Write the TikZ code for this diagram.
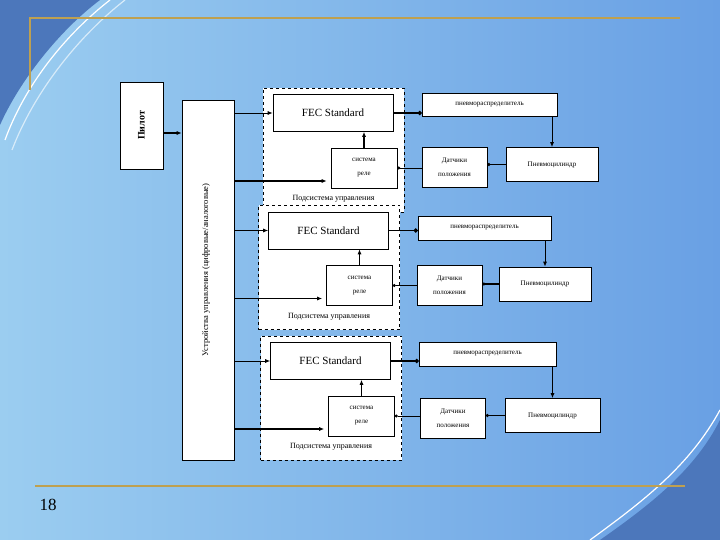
\documentclass[tikz,border=0pt]{standalone}
\usepackage{fontspec}
\setmainfont{Liberation Serif}
\usetikzlibrary{arrows.meta}
\definecolor{bgA}{RGB}{155,205,240}
\definecolor{bgB}{RGB}{105,160,228}
\definecolor{gold}{RGB}{190,160,80}
\definecolor{grid}{RGB}{45,95,175}
\begin{document}
\begin{tikzpicture}[x=1pt,y=-1pt,
 box/.style={draw=black,fill=white,line width=0.6pt,inner sep=0pt},
 dbox/.style={draw=black,fill=white,dashed,line width=0.6pt},
 con/.style={line width=1.3pt,-{Latex[length=5pt,width=4pt]}},
 dot/.style={line width=0.6pt,-{Circle[length=3pt]}},
 thk/.style={line width=1.6pt,-{Circle[length=4pt]}},
 lab/.style={font=\fontsize{7}{8}\selectfont},
 labs/.style={font=\fontsize{8}{9}\selectfont}]
\useasboundingbox (0,0) rectangle (720,540);
\shade[left color=bgA,right color=bgB] (0,0) rectangle (720,540);
\fill[grid!85] (0,0) -- (100,0) .. controls (60,30) and (20,80) .. (0,125) -- cycle;
\draw[white,line width=1.2pt] (110,0) .. controls (65,35) and (25,85) .. (5,140);
\draw[white!60!bgA,line width=1.2pt] (125,0) .. controls (80,35) and (35,90) .. (12,150);
\fill[grid!85] (720,540) -- (600,540) .. controls (650,505) and (695,470) .. (720,420) -- cycle;
\draw[white,line width=1.2pt] (590,540) .. controls (645,500) and (690,465) .. (720,410);
\draw[gold,line width=1.5pt] (30,90) -- (30,18) -- (680,18);
\draw[gold,line width=1.8pt] (35,486) -- (685,486);
\node[font=\fontsize{17}{17}\selectfont] (pg) at (48,505) {18};

\node[box,minimum width=43pt,minimum height=87pt] (pil) at (141.5,125.5) {};
\node[rotate=90,font=\bfseries\fontsize{10}{11}\selectfont] at (pil) {Пилот};
\node[box,minimum width=52pt,minimum height=360pt] (dev) at (208,280) {};
\node[rotate=90,font=\fontsize{8.5}{10}\selectfont] at (206,270) {Устройства управления (цифровые/аналоговые)};
\draw[con] (pil.east|-0,133) -- (dev.west|-0,133);

\foreach \i/\dx/\dy/\sx/\sy/\sw/\sh/\rx/\ry/\cx/\cy/\cw in
 {1/333.5/150/489.5/104.5/135/23/454.5/167/552/164.5/92,
  2/329/267.5/484.5/228/133/24/449.5/285/545/284/92,
  3/331/398/487.5/354/137/24/453/418/552.5/415.5/95}{
 \node[dbox,minimum width=141pt,minimum height=124pt] (sub\i) at (\dx,\dy) {};
 \node[box,minimum width=120pt,minimum height=37pt,font=\fontsize{11}{13}\selectfont] (fec\i) at (\dx-0.5,\dy-37) {FEC Standard};
 \node[box,minimum width=66pt,minimum height=40pt,lab,align=center] (rel\i) at (\dx+30.5,\dy+18) {система\\[6pt]реле};
 \node[labs] (sl\i) at (\dx,\dy+49) {Подсистема управления};
 \node[box,minimum width=\sw pt,minimum height=\sh pt,lab] (dis\i) at (\sx,\sy) {пневмораспределитель};
 \node[box,minimum width=65pt,minimum height=40pt,lab,align=center] (sen\i) at (\rx,\ry) {Датчики\\[6pt]положения};
 \node[box,minimum width=\cw pt,minimum height=34pt,lab] (cyl\i) at (\cx,\cy) {Пневмоцилиндр};
 \draw[con,line width=0.8pt] (dev.east|-fec\i) -- (fec\i.west);
 \draw[con] (dev.east|-0,\dy+31) -- ([xshift=-4pt]rel\i.west|-0,\dy+31);
 \draw[con] (rel\i.north) -- (rel\i.north|-fec\i.south);
 \draw[thk] (fec\i.east) -- (dis\i.west|-fec\i.east);
 \draw[con,line width=1pt] (dis\i.south-|cyl\i.north) -- (cyl\i.north);
 \draw[dot,line width=1.2pt] (cyl\i.west) -- (sen\i.east|-cyl\i.west);
 \draw[dot] (sen\i.west|-rel\i.east) -- (rel\i.east);
}
\end{tikzpicture}
\end{document}
